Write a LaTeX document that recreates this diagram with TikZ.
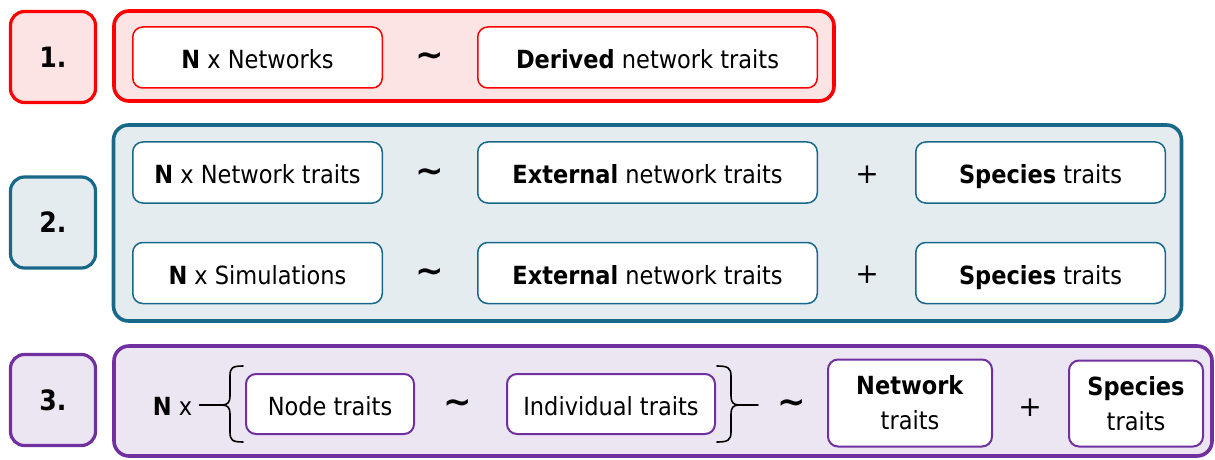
\documentclass[tikz,border=0pt]{standalone}
\usepackage{fontspec}
\setmainfont{DejaVu Sans Condensed}
\newfontfamily\opfont{DejaVu Sans}
\usepackage{tikz}
\usetikzlibrary{positioning}
\definecolor{grpred}{RGB}{255, 0, 0}
\definecolor{grpredbg}{RGB}{253, 228, 228}
\definecolor{grpblue}{RGB}{24, 104, 138}
\definecolor{grpbluebg}{RGB}{228, 236, 240}
\definecolor{grppurple}{RGB}{112, 48, 160}
\definecolor{grppurplebg}{RGB}{236, 230, 242}
\tikzset{
    tagbox/.style={rectangle, rounded corners=7pt, line width=1.6pt, minimum width=42.5pt, minimum height=45.5pt, font=\fontsize{14}{16}\selectfont\bfseries},
    panel/.style={rectangle, rounded corners=7.5pt, line width=1.8pt, inner sep=0pt},
    termbox/.style={rectangle, rounded corners=5pt, fill=white, line width=0.75pt, minimum height=30.5pt, inner sep=2pt, align=center, font=\fontsize{12.5}{17.5}\selectfont},
    oneline/.style={text height=11.5pt, text depth=0pt},
    redterm/.style={termbox, oneline, draw=grpred},
    blueterm/.style={termbox, oneline, draw=grpblue},
    purpleterm/.style={termbox, draw=grppurple, line width=1pt},
    opsym/.style={inner sep=0pt, font=\fontsize{14}{16}\opfont},
    tilde/.style={opsym, font=\fontsize{17}{18}\opfont\bfseries},
    bracket/.style={line width=0.8pt, line cap=round, line join=round}
}

\begin{document}
\begin{tikzpicture}[x=0.5pt, y=-0.5pt]
    \fill[white] (0,0) rectangle (1215,460);
    \useasboundingbox (0,0) rectangle (1215,460);

    % model 1
    \node[tagbox, draw=grpred, fill=grpredbg] (tag1) at (53,57) {1.};
    \node[panel, draw=grpred, fill=grpredbg, minimum width=360pt, minimum height=45pt] (panel1) at (474,56) {};
    \node[redterm, minimum width=124.75pt] (nets) at (257.5,57.5) {\textbf{N} x Networks};
    \node[tilde] (sim1) at (430,59) {∼};
    \node[redterm, minimum width=169.75pt] (derived) at (647.5,57.5) {\textbf{Derived} network traits};

    % model 2
    \node[tagbox, draw=grpblue, fill=grpbluebg] (tag2) at (53,222.5) {2.};
    \node[panel, draw=grpblue, fill=grpbluebg, minimum width=534pt, minimum height=98pt] (panel2) at (647.5,223) {};
    \node[blueterm, minimum width=124.75pt] (nettr) at (257.5,172.5) {\textbf{N} x Network traits};
    \node[tilde] (sim2a) at (430,175) {∼};
    \node[blueterm, minimum width=169.75pt] (exta) at (647.5,172.5) {\textbf{External} network traits};
    \node[opsym] (plus2a) at (867,175) {+};
    \node[blueterm, minimum width=124.75pt] (spa) at (1040.5,172.5) {\textbf{Species} traits};
    \node[blueterm, minimum width=124.75pt] (sims) at (257.5,273) {\textbf{N} x Simulations};
    \node[tilde] (sim2b) at (430,275) {∼};
    \node[blueterm, minimum width=169.75pt] (extb) at (647.5,273) {\textbf{External} network traits};
    \node[opsym] (plus2b) at (867,275) {+};
    \node[blueterm, minimum width=124.75pt] (spb) at (1040.5,273) {\textbf{Species} traits};

    % model 3
    \node[tagbox, draw=grppurple, fill=grppurplebg] (tag3) at (53,400) {3.};
    \node[panel, draw=grppurple, fill=grppurplebg, minimum width=549pt, minimum height=55pt] (panel3) at (663,401) {};
    \node[inner sep=3.5pt, oneline, font=\fontsize{12.5}{15}\selectfont] (nx) at (172.5,404) {\textbf{N} x};
    \node[purpleterm, oneline, minimum width=84pt, minimum height=30pt] (nodetr) at (330,404) {Node traits};
    \node[tilde] (sim3a) at (458,406) {∼};
    \node[purpleterm, oneline, minimum width=104pt, minimum height=30pt] (indtr) at (611,404) {Individual traits};
    \node[tilde] (sim3b) at (792,406) {∼};
    \node[purpleterm, minimum width=82pt, minimum height=43.5pt] (netw) at (910,403) {\textbf{Network}\\traits};
    \node[opsym] (plus3) at (1030,408) {+};
    \node[purpleterm, minimum width=67pt, minimum height=43pt] (spc) at (1136,403.5) {\textbf{Species}\\traits};

    % braces round the node-level model
    \coordinate (lbtip) at (222,405);
    \coordinate (lbtop) at (243,366);
    \coordinate (lbbot) at (243,442);
    \coordinate (rbtip) at (739,405);
    \coordinate (rbtop) at (717,366);
    \coordinate (rbbot) at (717,442);
    \coordinate (rbout) at (758,405);
    \draw[bracket] (nx.east |- lbtip) -- (lbtip);
    \draw[bracket] (lbtop) .. controls (232,366) and (230,368) .. (230,376) -- (230,396)
        .. controls (230,402) and (228,405) .. (lbtip)
        .. controls (228,405) and (230,408) .. (230,414) -- (230,432)
        .. controls (230,440) and (232,442) .. (lbbot);
    \draw[bracket] (rbtop) .. controls (728,366) and (731,368) .. (731,376) -- (731,396)
        .. controls (731,402) and (733,405) .. (rbtip)
        .. controls (733,405) and (731,408) .. (731,414) -- (731,432)
        .. controls (731,440) and (728,442) .. (rbbot);
    \draw[bracket] (rbtip) -- (rbout);
\end{tikzpicture}
\end{document}
